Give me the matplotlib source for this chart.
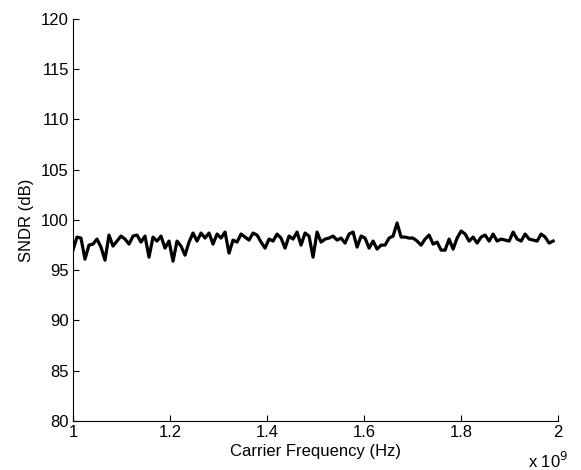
import numpy as np
import matplotlib
matplotlib.use("Agg")
import matplotlib.pyplot as plt

plt.rcParams['font.family'] = ['Liberation Sans', 'DejaVu Sans']

# Measured SNDR across the carrier sweep (dB)
sndr_db = [
    97.0, 98.3, 98.2, 96.1, 97.5, 97.6, 98.1, 97.3, 96.0, 98.5,
    97.4, 97.9, 98.4, 98.1, 97.6, 98.4, 98.5, 97.8, 98.4, 96.3,
    98.3, 97.9, 98.4, 97.2, 97.9, 95.9, 97.9, 97.4, 96.5, 97.8,
    98.7, 97.9, 98.7, 98.2, 98.7, 97.6, 98.6, 98.2, 98.8, 96.7,
    98.0, 97.8, 98.6, 98.3, 98.0, 98.7, 98.5, 97.8, 97.2, 98.1,
    97.9, 98.6, 98.2, 97.2, 98.4, 98.1, 98.8, 97.5, 98.7, 98.4,
    96.3, 98.8, 97.8, 98.1, 98.2, 98.4, 98.0, 98.2, 97.7, 98.6,
    98.8, 97.3, 98.4, 98.2, 97.2, 97.9, 97.1, 97.5, 97.5, 98.2,
    98.4, 99.7, 98.3, 98.3, 98.2, 98.2, 97.9, 97.5, 98.1, 98.5,
    97.6, 97.8, 97.0, 97.0, 98.1, 97.1, 98.2, 98.9, 98.6, 97.9,
    98.3, 97.7, 98.3, 98.5, 97.9, 98.6, 97.9, 98.1, 98.0, 97.9,
    98.8, 98.1, 97.9, 98.6, 98.1, 98.0, 97.9, 98.6, 98.3, 97.7,
    97.9,
]
f_start_hz = 1.0e9
f_stop_hz = 1.99e9
freq_hz = np.linspace(f_start_hz, f_stop_hz, len(sndr_db))

xticks = [1.0e9, 1.2e9, 1.4e9, 1.6e9, 1.8e9, 2.0e9]
xtick_labels = ["1", "1.2", "1.4", "1.6", "1.8", "2"]
yticks = [80, 85, 90, 95, 100, 105, 110, 115, 120]

fs = 12

fig = plt.figure(figsize=(5.81, 4.70), dpi=100)
ax = fig.add_axes([0.1256, 0.1043, 0.8348, 0.8553])

ax.plot(freq_hz, sndr_db, color="black", linewidth=2.3)

ax.set_xlim(1.0e9, 2.0e9)
ax.set_ylim(80, 120)
ax.set_xticks(xticks)
ax.set_xticklabels(xtick_labels)
ax.set_yticks(yticks)

for side in ("top", "right"):
    ax.spines[side].set_visible(False)
for side in ("left", "bottom"):
    ax.spines[side].set_linewidth(0.8)

ax.tick_params(direction="in", length=4, width=0.8, labelsize=fs, pad=3)

ax.set_xlabel("Carrier Frequency (Hz)", fontsize=fs, labelpad=3)
ax.set_ylabel("SNDR (dB)", fontsize=fs, labelpad=5)

fig.text(528 / 581, 1 - 461 / 470, r"x 10$^{9}$", fontsize=fs,
         ha="left", va="center")

fig.savefig("out.png", dpi=100)
